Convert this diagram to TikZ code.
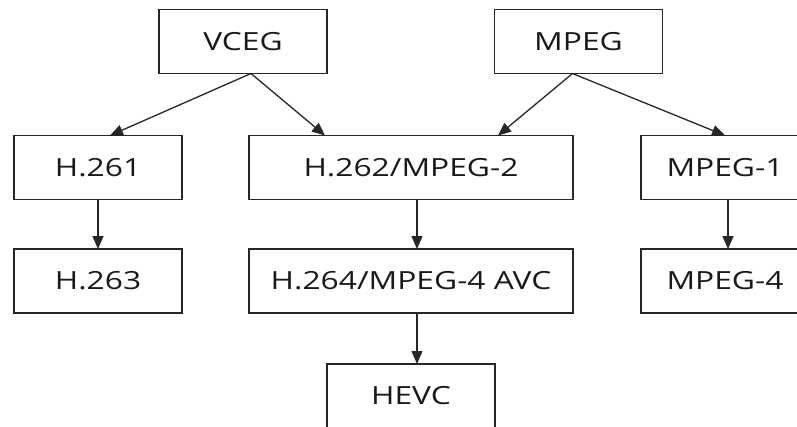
\documentclass[tikz,border=0pt]{standalone}
\usepackage{fontspec}
\setmainfont{Open Sans}[FakeStretch=1.27]
\usetikzlibrary{arrows.meta}

\begin{document}
\begin{tikzpicture}[x=1pt,y=-1pt]
\tikzstyle{every node}+=[inner sep=0pt,outer sep=0pt]
\tikzstyle{codec}=[draw=black!85,line width=1.2pt,minimum height=64pt,font=\fontsize{25}{28}\selectfont,text=black!90]
\tikzstyle{narrow}=[codec,minimum width=168pt]
\tikzstyle{wide}=[codec,minimum width=324pt]
\tikzstyle{link}=[draw=black!85,line width=1.3pt,-{Triangle[length=13pt,width=11pt]}]
\useasboundingbox (0,0) rectangle (797,426);
\node [narrow] (vceg) at (243,41.5) {VCEG};
\node [narrow] (mpeg) at (578.5,41.5) {MPEG};
\node [narrow] (h261) at (98,167.5) {H.261};
\node [wide] (h262) at (411,167.5) {H.262/MPEG-2};
\node [narrow] (mpeg1) at (725,167.5) {MPEG-1};
\node [narrow] (h263) at (98,281) {H.263};
\node [wide] (h264) at (411,281) {H.264/MPEG-4 AVC};
\node [narrow] (mpeg4) at (725,281) {MPEG-4};
\node [narrow] (hevc) at (411,396) {HEVC};
\draw [link] ([xshift=8pt]vceg.south) -- ([xshift=12pt]h261.north);
\draw [link] ([xshift=8pt]vceg.south) -- ([xshift=-86pt]h262.north);
\draw [link] ([xshift=-6pt]mpeg.south) -- ([xshift=87pt]h262.north);
\draw [link] ([xshift=-6pt]mpeg.south) -- (mpeg1.north);
\draw [link] (h261.south) -- (h263.north);
\draw [link] ([xshift=6pt]h262.south) -- ([xshift=6pt]h264.north);
\draw [link] ([xshift=6pt]h264.south) -- ([xshift=6pt]hevc.north);
\draw [link] ([xshift=3pt]mpeg1.south) -- ([xshift=3pt]mpeg4.north);
\end{tikzpicture}
\end{document}
